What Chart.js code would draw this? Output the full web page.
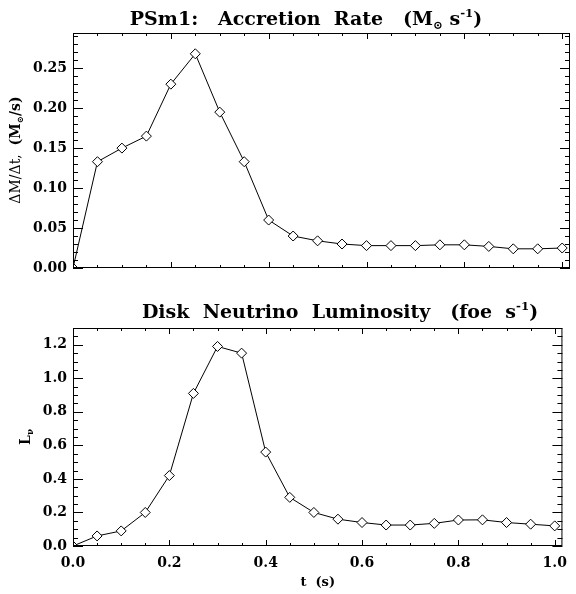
<!DOCTYPE html>
<html>
<head>
<meta charset="utf-8">
<script src="https://cdn.jsdelivr.net/npm/chart.js@4/dist/chart.umd.min.js"></script>
<style>
  body { margin: 0; background: #fff; }
  canvas { position: absolute; left: 0; }
  #top { top: 0; }
  #bot { top: 290px; }
</style>
</head>
<body>
<canvas id="top" width="576" height="290"></canvas>
<canvas id="bot" width="576" height="304"></canvas>
<script>
// time samples (s)
var tSec = [0.00, 0.05, 0.10, 0.15, 0.20, 0.25, 0.30, 0.35, 0.40, 0.45, 0.50,
            0.55, 0.60, 0.65, 0.70, 0.75, 0.80, 0.85, 0.90, 0.95, 1.00];
// accretion rate, Msun/s
var mdot = [0.000, 0.133, 0.150, 0.165, 0.230, 0.268, 0.195, 0.133, 0.060, 0.040, 0.034,
            0.030, 0.028, 0.028, 0.028, 0.029, 0.029, 0.027, 0.024, 0.024, 0.025];
// disk neutrino luminosity, foe/s
var lnu = [0.00, 0.06, 0.09, 0.20, 0.42, 0.91, 1.19, 1.15, 0.56, 0.29, 0.20,
           0.16, 0.14, 0.125, 0.125, 0.135, 0.155, 0.156, 0.14, 0.13, 0.12];

var xTicks = [0.0, 0.2, 0.4, 0.6, 0.8, 1.0];
var FONT = '"DejaVu Serif", "Liberation Serif", serif';

// rich text with sub/superscripts, centred on cx, baseline at by
function drawRich(ctx, parts, cx, by, size, rotate) {
  ctx.save();
  ctx.translate(cx, by);
  if (rotate) ctx.rotate(-Math.PI / 2);
  var fontOf = function(p) {
    var s = (p.sup || p.sub) ? size * 0.62 : size;
    return (p.normal ? 'normal ' : 'bold ') + s + 'px ' + FONT;
  };
  var w = 0;
  parts.forEach(function(p) { ctx.font = fontOf(p); p.w = ctx.measureText(p.t).width; w += p.w; });
  var x = -w / 2;
  ctx.fillStyle = '#000';
  ctx.textBaseline = 'alphabetic';
  parts.forEach(function(p) {
    ctx.font = fontOf(p);
    var dy = p.sup ? -size * 0.42 : (p.sub ? size * 0.22 : 0);
    ctx.fillText(p.t, x, dy);
    x += p.w;
  });
  ctx.restore();
}

// IDL-style box with inward major/minor ticks on all sides, plus the text bits
var idlFrame = {
  id: 'idlFrame',
  afterDatasetsDraw: function(chart, args, o) {
    var ctx = chart.ctx, a = chart.chartArea, sx = chart.scales.x, sy = chart.scales.y;
    ctx.save();
    ctx.strokeStyle = '#000';
    ctx.lineWidth = 1;
    ctx.strokeRect(a.left + 0.5, a.top + 0.5, a.right - a.left - 1, a.bottom - a.top - 1);
    ctx.beginPath();
    for (var i = 0; i * o.xMinor <= sx.max + 1e-9; i++) {
      var px = Math.round(sx.getPixelForValue(i * o.xMinor)) + 0.5;
      var len = (i % o.xEvery === 0) ? 6 : 3;
      ctx.moveTo(px, a.bottom); ctx.lineTo(px, a.bottom - len);
      ctx.moveTo(px, a.top); ctx.lineTo(px, a.top + len);
    }
    for (var j = 0; j * o.yMinor <= sy.max + 1e-9; j++) {
      var py = Math.round(sy.getPixelForValue(j * o.yMinor)) + 0.5;
      var ln = (j % o.yEvery === 0) ? 10 : 5;
      ctx.moveTo(a.left, py); ctx.lineTo(a.left + ln, py);
      ctx.moveTo(a.right, py); ctx.lineTo(a.right - ln, py);
    }
    ctx.stroke();
    ctx.restore();
    drawRich(ctx, o.title, o.titleX, o.titleY, 19, false);
    drawRich(ctx, o.ytitle, o.ytitleX, o.ytitleY, 14, true);
  }
};

function makeChart(id, vals, cfg) {
  return new Chart(document.getElementById(id), {
    type: 'line',
    data: {
      datasets: [{
        data: tSec.map(function(t, i) { return { x: t, y: vals[i] }; }),
        borderColor: '#000',
        borderWidth: 1,
        tension: 0,
        pointStyle: 'rectRot',
        pointRadius: 5,
        pointBackgroundColor: '#fff',
        pointBorderColor: '#000',
        pointBorderWidth: 1,
        clip: 0
      }]
    },
    options: {
      responsive: false,
      animation: false,
      layout: { padding: { left: 0, right: 5, top: cfg.padTop, bottom: 0 } },
      plugins: {
        legend: { display: false },
        tooltip: { enabled: false },
        idlFrame: cfg.frame
      },
      scales: {
        x: {
          type: 'linear',
          min: 0,
          max: 1.016,
          afterFit: function(s) { s.height = cfg.xHeight; },
          afterBuildTicks: function(s) { s.ticks = xTicks.map(function(v) { return { value: v }; }); },
          grid: { display: false, drawTicks: false },
          border: { display: false },
          ticks: {
            display: cfg.xLabels,
            padding: 9,
            color: '#000',
            font: { family: FONT, weight: 'bold', size: 14 },
            callback: function(v) { return v.toFixed(1); }
          },
          title: {
            display: cfg.xLabels,
            text: 't  (s)',
            color: '#000',
            padding: { top: 0, bottom: 4 },
            font: { family: FONT, weight: 'bold', size: 13 }
          }
        },
        y: {
          min: cfg.yMin,
          max: cfg.yMax,
          afterFit: function(s) { s.width = 73; },
          grid: { display: false, drawTicks: false },
          border: { display: false },
          ticks: {
            stepSize: cfg.yStep,
            includeBounds: false,
            padding: 6,
            color: '#000',
            font: { family: FONT, weight: 'bold', size: 14 },
            callback: function(v) { return v.toFixed(cfg.yDec); }
          }
        }
      }
    },
    plugins: [idlFrame]
  });
}

makeChart('top', mdot, {
  padTop: 33, xHeight: 22, xLabels: false,
  yMin: 0, yMax: 0.294, yStep: 0.05, yDec: 2,
  frame: {
    xMinor: 0.05, xEvery: 4, yMinor: 0.01, yEvery: 5,
    title: [{ t: 'PSm1:   Accretion  Rate   (M' }, { t: '\u2299', sub: true }, { t: ' s' }, { t: '-1', sup: true }, { t: ')' }],
    titleX: 306, titleY: 25,
    ytitle: [{ t: '\u0394M/\u0394t,  ', normal: true }, { t: '(M' }, { t: '\u2299', sub: true }, { t: '/s)' }],
    ytitleX: 20, ytitleY: 150
  }
});

makeChart('bot', lnu, {
  padTop: 38, xHeight: 48, xLabels: true,
  yMin: 0, yMax: 1.3, yStep: 0.2, yDec: 1,
  frame: {
    xMinor: 0.05, xEvery: 4, yMinor: 0.05, yEvery: 4,
    title: [{ t: 'Disk  Neutrino  Luminosity   (foe  s' }, { t: '-1', sup: true }, { t: ')' }],
    titleX: 340, titleY: 28,
    ytitle: [{ t: 'L' }, { t: '\u03bd', sub: true }],
    ytitleX: 30, ytitleY: 147
  }
});
</script>
</body>
</html>
